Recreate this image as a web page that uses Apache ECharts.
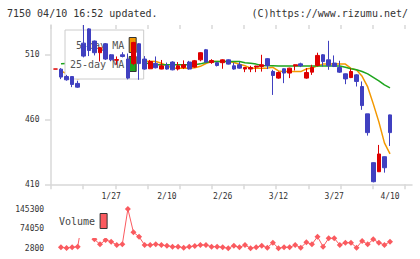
<!DOCTYPE html>
<html><head><meta charset="utf-8">
<script src="https://cdn.jsdelivr.net/npm/echarts@6/dist/echarts.min.js"></script>
<style>html,body{margin:0;padding:0;background:#fff}#c{width:420px;height:259px}</style>
</head><body><div id="c"></div>
<script>
const dates = ['1/10','1/14','1/15','1/16','1/17','1/20','1/21','1/22','1/23','1/24',
 '1/27','1/28','1/29','1/30','1/31','2/3','2/4','2/5','2/6','2/7',
 '2/10','2/12','2/13','2/14','2/17','2/18','2/19','2/20','2/21','2/25',
 '2/26','2/27','2/28','3/3','3/4','3/5','3/6','3/7','3/10','3/11',
 '3/12','3/13','3/14','3/17','3/18','3/19','3/21','3/24','3/25','3/26',
 '3/27','3/28','3/31','4/1','4/2','4/3','4/4','4/7','4/8','4/9','4/10'];
const opens = [499,498.9,493.2,493.2,487.9,519,530,520.6,511.6,518.5,
 510,505.8,510,506.7,503.2,518.5,506.7,499.2,503.2,499,
 501.8,504.4,499,500.2,504.4,500.5,506.1,513.9,504,503.9,
 503.9,506.1,501.5,502.3,499,499,500.5,501,507,497.1,
 492,499.2,495.9,501.5,503,492,496.6,501.7,510,506.1,
 503.6,500.2,495.3,492.4,494.5,485.5,464.4,426.7,419.7,431.3,463.6];
const closes = [499,492.8,490.7,487.1,485,509,513.3,511.6,515.5,506.7,
 506.1,506.3,508.7,492,519.5,503.2,499,504.8,500,501.5,
 499,498.4,501.5,502.3,499,505.4,511.6,504.4,505.6,501.7,
 506.1,502.8,499,499.7,500.2,500.2,501.3,502.3,501.7,494,
 496.3,495.9,499.7,502.3,501.5,496.3,500.2,509.5,504.8,501.5,
 501,496.6,491.4,497.1,489.4,470.8,449.9,412,433.4,422.8,449.9];
const lows = [499,491.2,490,485,484.5,508,509,509.5,504.8,506,
 505,502.3,508,491,502,490.7,498.5,499,499.5,498.8,
 498.5,498,497.9,499,498.5,500,505,504,503,501,
 499.2,502.5,498.5,499.3,496.6,496.6,496.6,497,499,479,
 491.5,488.1,492,497.9,500.5,491.5,494.5,501,501,498.4,
 500.5,496,487.3,492,485.5,467.5,447.6,411.5,419.5,419,439.6];
const highs = [499,499.7,494.5,493.5,490,533,530.5,521,516,519,
 510.5,508.7,512,511,520,519,509,506,508.7,506,
 504,505,504.4,505.7,505.3,506,512,514.5,506.6,504.5,
 506.5,506.5,503.9,504.4,500.5,501.5,501.5,510,507.5,498.4,
 497.1,499.5,500,502.5,503.9,499.7,502.3,511.6,510.5,520.8,
 509.5,505.4,495.5,499.2,495,489.4,464.4,427,440.4,431.5,463.8];
const ma5 = [null,497.5,495.5,493,491.5,492.5,497,501,507,511,
 510.5,509,508.5,504.5,506,505.5,505,505,504.8,503.5,
 501.5,499.7,499.7,499.7,499.7,500,501.1,503.3,504.8,504.8,
 504.8,504.8,504.1,502.7,501.5,499.7,499.7,499.7,499.7,500.3,
 497.5,497,497,497,497,499,499.8,501.5,502.8,502.8,
 503,502.8,502.8,499.5,498.2,493.4,485.2,472.1,458.2,442,433.5];
const ma25 = [null,503.1,503.2,503.2,503.3,503.3,503.4,503.5,503.5,503.5,
 503.5,503.5,503.5,503.5,503.5,503.5,503.5,503.2,502.4,502.3,
 502.3,502.3,502.3,502.3,502.3,502.3,503,504.1,504.8,504.8,
 504.8,504.8,504.8,504.8,503.8,503.4,502.8,501.7,501.5,501.5,
 501.3,501.3,501.3,501.3,501.3,501.3,501.3,501.3,501.3,501.3,
 501.3,501.3,500.3,499.2,498.4,497.1,495.3,492.6,489.9,486.8,484.5];
const volumes = [null,6400,3500,6400,8600,125000,85000,35400,17300,32900,
 26700,14800,17300,145300,60800,44900,14800,14800,17300,14800,
 12200,8600,8600,5000,8600,11100,14800,14800,8700,8700,
 6300,3000,12300,6300,14800,3000,6300,12300,5100,23200,
 3000,6300,6300,14800,5100,24500,17200,45000,8700,39000,
 39000,14800,23200,23200,5100,29300,17200,35300,23200,14800,26800];
const priceTicks = [410,460,510];
const volumeTicks = [2800,74050,145300];
const xTickCount = [0,1,2,3,4,5,6,7,8,9,10,11];

const MONO = '"DejaVu Sans Mono", monospace';
const kData = opens.map((o,i)=>[o, closes[i], lows[i], highs[i]]);
const chart = echarts.init(document.getElementById('c'), null, {renderer:'svg'});
const axisCol = '#d8d8d8';
chart.setOption({
  animation:false,
  title:[
    {text:'7150 04/10 16:52 updated.', left:7, top:8, padding:0,
     textStyle:{fontFamily:MONO,fontSize:10,fontWeight:'normal',color:'#333'}},
    {text:'(C)https://www.rizumu.net/', right:12, top:8, padding:0,
     textStyle:{fontFamily:MONO,fontSize:10,fontWeight:'normal',color:'#333'}}
  ],
  legend:[
    {data:['5-day MA','25-day MA'], orient:'vertical', left:65, top:30, align:'right',
     itemWidth:7, itemHeight:15, itemGap:3, icon:'rect', selectedMode:false,
     padding:[7,7,7,5], backgroundColor:'#fff', borderColor:'#ccc', borderWidth:1, z:3,
     itemStyle:{borderColor:'#333',borderWidth:1},
     textStyle:{fontFamily:MONO,fontSize:10,color:'#555'}},
    {data:['Volume'], orient:'vertical', left:55, top:210, align:'right',
     itemWidth:7, itemHeight:15, icon:'rect', selectedMode:false,
     padding:[3,3,9,4], backgroundColor:'#fff', borderWidth:0, z:3,
     itemStyle:{borderColor:'#333',borderWidth:1},
     textStyle:{fontFamily:MONO,fontSize:10,color:'#444'}}
  ],
  grid:[
    {left:51, top:25, width:361, height:159.3},
    {left:52.6, top:25, width:340.2, height:159.3},
    {left:52.6, top:209, width:340.2, height:39.3}
  ],
  xAxis:[
    {type:'value', gridIndex:0, min:0, max:11.22, axisLine:{lineStyle:{color:axisCol,width:1.5}},
     axisTick:{customValues:xTickCount, length:5, lineStyle:{color:axisCol,width:1.5}},
     axisLabel:{show:false}, splitLine:{show:false}},
    {type:'value', gridIndex:0, min:0, max:11.22, axisLine:{show:false},
     axisTick:{customValues:xTickCount, inside:true, length:4, lineStyle:{color:axisCol,width:1.5}},
     axisLabel:{show:false}, splitLine:{show:false}},
    {type:'category', gridIndex:1, data:dates, boundaryGap:true, axisLine:{show:false}, axisTick:{show:false},
     axisLabel:{interval:(i)=>i>0 && i%10===0, margin:8, fontFamily:MONO, fontSize:8, color:'#333'},
     splitLine:{show:false}},
    {type:'category', gridIndex:2, data:dates, boundaryGap:true, show:false}
  ],
  yAxis:[
    {type:'value', gridIndex:0, min:410, max:533, axisLine:{show:true,lineStyle:{color:axisCol,width:1.5}},
     axisTick:{show:true, customValues:priceTicks, length:6, lineStyle:{color:axisCol,width:1.5}},
     axisLabel:{customValues:priceTicks, margin:11.5, fontFamily:MONO, fontSize:8, color:'#333'},
     splitLine:{show:false}},
    {type:'value', gridIndex:1, min:410, max:533, show:false, splitLine:{show:false}},
    {type:'value', gridIndex:2, min:2800, max:145300, axisLine:{show:false}, axisTick:{show:false},
     axisLabel:{customValues:volumeTicks, formatter:(v)=>String(v), margin:8.5, fontFamily:MONO, fontSize:8, color:'#333'},
     splitLine:{show:false}}
  ],
  series:[
    {name:'5-day MA', type:'line', xAxisIndex:2, yAxisIndex:1, data:ma5, showSymbol:false, z:2,
     lineStyle:{color:'#f39800',width:1.5}, itemStyle:{color:'#f39800'}},
    {name:'25-day MA', type:'line', xAxisIndex:2, yAxisIndex:1, data:ma25, showSymbol:false, z:2,
     lineStyle:{color:'#1ea51e',width:1.5}, itemStyle:{color:'#1ea51e'}},
    {name:'price', type:'candlestick', xAxisIndex:2, yAxisIndex:1, data:kData, barWidth:4.2, z:5,
     itemStyle:{color:'#dd0000', color0:'#4040c0', borderColor:'#dd0000', borderColor0:'#4040c0', borderWidth:1}},
    {name:'Volume', type:'line', xAxisIndex:3, yAxisIndex:2, data:volumes, symbol:'diamond', symbolSize:6,
     showSymbol:true, showAllSymbol:true, z:2, lineStyle:{color:'#fa5a5f',width:1}, itemStyle:{color:'#fa5a5f'}}
  ]
});
</script></body></html>
